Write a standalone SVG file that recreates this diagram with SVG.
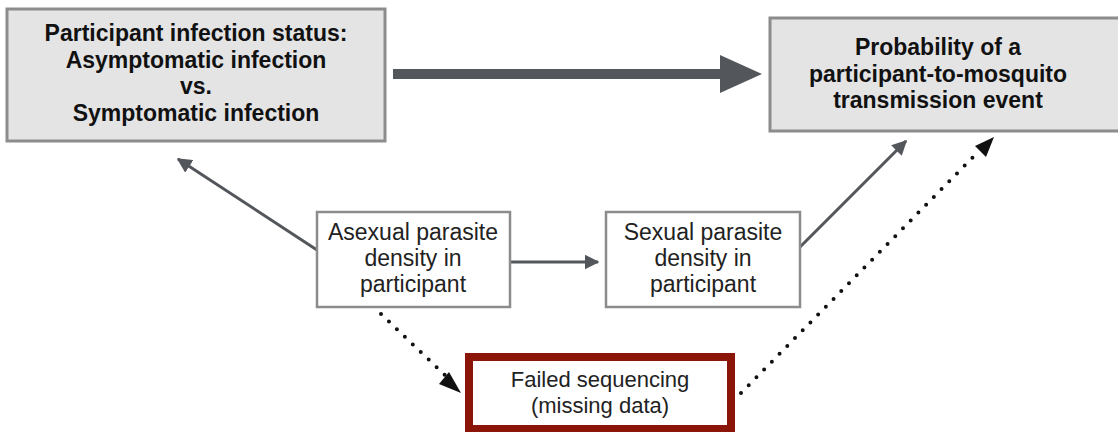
<svg xmlns="http://www.w3.org/2000/svg" width="1118" height="432" viewBox="0 0 1118 432">
<style>
.gbox{fill:#e4e4e5;stroke:#8c8c8c;stroke-width:3}
.wbox{fill:#fff;stroke:#8c8c8c;stroke-width:2.5}
.rbox{fill:#fff;stroke:#8b1509;stroke-width:8}
.bt{font-family:"Liberation Sans",Arial,sans-serif;font-weight:bold;font-size:23px;fill:#111;text-anchor:middle}
.rt{font-family:"Liberation Sans",Arial,sans-serif;font-size:23px;fill:#222;text-anchor:middle}
.ft{font-size:22px}
.sl{stroke:#53575c;stroke-width:3;fill:none}
.dl{stroke:#111;stroke-width:4;stroke-linecap:round;stroke-dasharray:0 11;fill:none}
</style>
<defs>
<marker id="ah" markerWidth="5" markerHeight="5" refX="4.5" refY="2.5" orient="auto" markerUnits="strokeWidth">
<path d="M0,0 L5,2.5 L0,5 Z" fill="#53575c"/>
</marker>
</defs>
<rect width="1118" height="432" fill="#fff"/>
<g id="connectors">
<path d="M393,74 H722" stroke="#53575c" stroke-width="10"/>
<path d="M720,55 L762,74 L720,93 Z" fill="#53575c"/>
<line class="sl" x1="317" y1="250" x2="178" y2="159" marker-end="url(#ah)"/>
<line class="sl" x1="510" y1="262" x2="598" y2="262" marker-end="url(#ah)"/>
<line class="sl" x1="800" y1="247" x2="906" y2="141" marker-end="url(#ah)"/>
<line class="dl" x1="381" y1="314" x2="450" y2="380"/>
<path d="M449,372 L461,393 L439,384 Z" fill="#111"/>
<line class="dl" x1="741" y1="393" x2="980" y2="150"/>
<path d="M975,146 L994,137 L986,157 Z" fill="#111"/>
</g>
<g id="status">
<rect class="gbox" x="7" y="9" width="378" height="132"/>
<text class="bt" x="196" y="41">Participant infection status:</text>
<text class="bt" x="196" y="68">Asymptomatic infection</text>
<text class="bt" x="196" y="94">vs.</text>
<text class="bt" x="196" y="121">Symptomatic infection</text>
</g>
<g id="probability">
<rect class="gbox" x="770" y="18" width="352" height="113"/>
<text class="bt" x="938" y="55">Probability of a</text>
<text class="bt" x="938" y="82">participant-to-mosquito</text>
<text class="bt" x="938" y="108">transmission event</text>
</g>
<g id="asexual">
<rect class="wbox" x="317" y="212" width="193" height="95"/>
<text class="rt" x="413" y="240">Asexual parasite</text>
<text class="rt" x="413" y="266">density in</text>
<text class="rt" x="413" y="292">participant</text>
</g>
<g id="sexual">
<rect class="wbox" x="606" y="212" width="194" height="95"/>
<text class="rt" x="703" y="240">Sexual parasite</text>
<text class="rt" x="703" y="266">density in</text>
<text class="rt" x="703" y="292">participant</text>
</g>
<g id="failed">
<rect class="rbox" x="469" y="357" width="262" height="72"/>
<text class="rt ft" x="600" y="387">Failed sequencing</text>
<text class="rt ft" x="600" y="413">(missing data)</text>
</g>
</svg>
